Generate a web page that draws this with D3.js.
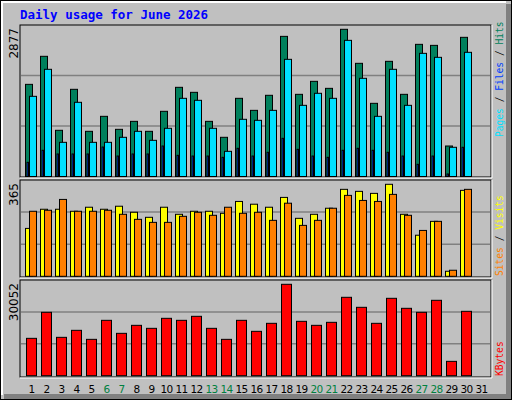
<!DOCTYPE html>
<html><head><meta charset="utf-8">
<script src="https://cdn.jsdelivr.net/npm/d3@7"></script>
<style>body{margin:0;background:#fff}svg{display:block}</style>
</head><body><svg id="chart" width="512" height="400"></svg>
<script>
const days = d3.range(1, 32);
const weekend = [6, 7, 13, 14, 20, 21, 27, 28];
const hits = [1801,2349,903,1704,883,1176,922,1078,883,1274,1743,1645,1078,766,1528,1293,1587,2739,1606,1860,1723,2877,2212,1430,2251,1606,2583,2563,596,2720,null];
const files = [1567,2095,668,1450,668,668,766,883,707,942,1528,1489,942,492,1118,1098,1293,2290,1391,1626,1528,2661,1919,1176,2095,1391,2407,2329,571,2427,null];
const pages = [277,512,440,440,440,576,400,440,440,596,414,400,400,375,551,400,473,746,531,400,375,512,551,512,473,400,238,400,49,571,null];
const visits = [190,266,266,258,274,266,278,254,234,274,246,258,258,250,297,286,274,313,230,246,270,345,337,329,365,246,163,218,20,341,null];
const sites = [258,262,305,258,258,262,246,226,214,214,238,254,242,274,250,254,222,290,202,222,270,321,301,297,325,242,182,218,24,345,null];
const kbytes = [12284,20839,12613,14916,11955,18207,13929,16562,15575,18865,18207,19523,15575,11955,18207,14587,17220,30052,17878,16562,17549,25775,22484,17220,25446,22155,20839,24788,4716,21168,null];

const svg = d3.select("#chart");
const mono = "'DejaVu Sans Mono', monospace";

// background + bevel
svg.append("rect").attr("x", 0).attr("y", 0).attr("width", 512).attr("height", 400).attr("fill", "#c0c0c0");
svg.append("rect").attr("x", 506).attr("y", 4).attr("width", 5).attr("height", 395).attr("fill", "#808080");
svg.append("rect").attr("x", 4).attr("y", 394).attr("width", 507).attr("height", 5).attr("fill", "#808080");
svg.append("path").attr("d", "M2,395V2H506").attr("stroke", "#fff").attr("stroke-width", 2).attr("fill", "none");
svg.append("rect").attr("x", 0.5).attr("y", 0.5).attr("width", 511).attr("height", 399).attr("fill", "none").attr("stroke", "#000");

svg.append("text").attr("x", 20).attr("y", 19).attr("fill", "#0000ff")
  .attr("font-family", mono).attr("font-weight", "bold").attr("font-size", 12.5)
  .text("Daily usage for June 2026");

const x = d3.scaleBand().domain(days).range([20, 485]);
const panelL = 20, panelR = 491;

function panel(top, bottom, base, maxY, maxVal, label) {
  svg.append("rect").attr("x", panelL).attr("y", top).attr("width", panelR - panelL).attr("height", bottom - top)
    .attr("fill", "#c0c0c0").attr("stroke", "#000");
  svg.append("path").attr("d", `M${panelL},${bottom + 1}H${panelR + 1}V${top}`).attr("stroke", "#fff").attr("fill", "none");
  const y = d3.scaleLinear().domain([0, maxVal]).range([base, maxY]);
  const h = base - top;
  [1, 2].forEach((k) => {
    svg.append("line").attr("x1", panelL + 1).attr("x2", panelR - 1)
      .attr("y1", base - h * k / 3).attr("y2", base - h * k / 3).attr("stroke", "#808080").attr("stroke-width", 1.5);
  });
  svg.append("text").attr("transform", `translate(18,${top + 3}) rotate(-90)`).attr("text-anchor", "end")
    .attr("font-family", "'DejaVu Sans', sans-serif").attr("font-size", 12).text(label);
  return y;
}

function bars(g, data, y, dx, w, color) {
  g.selectAll(null).data(days.filter((d, i) => data[i] != null)).enter().append("rect")
    .attr("x", (d) => x(d) + dx).attr("width", w)
    .attr("y", (d) => y(data[d - 1])).attr("height", (d) => y(0) - y(data[d - 1]))
    .attr("fill", color).attr("stroke", "#000").attr("stroke-width", 1);
}

// top panel
const y1 = panel(25, 177, 176.5, 29.3, 2877, "2877");
const g1 = svg.append("g");
bars(g1, hits, y1, 5.5, 7, "#00805c");
bars(g1, files, y1, 9.5, 7, "#00e0ff");
bars(g1, pages, y1, 7, 1.5, "#0040ff");

// middle panel
const y2 = panel(180, 277, 276.3, 184.3, 365, "365");
const g2 = svg.append("g");
bars(g2, visits, y2, 5.5, 7, "#ffff00");
bars(g2, sites, y2, 9.5, 7, "#ff8000");

// kbytes panel
const y3 = panel(280, 377, 375.7, 284.3, 30052, "30052");
bars(svg.append("g"), kbytes, y3, 6.5, 10, "#ff0000");

// day labels
svg.selectAll(".day").data(days).enter().append("text")
  .attr("x", (d) => x(d) + 11.5).attr("y", 393).attr("text-anchor", "middle")
  .attr("font-family", "'DejaVu Sans', sans-serif").attr("font-size", 10.5).attr("letter-spacing", -0.6)
  .attr("fill", (d) => weekend.includes(d) ? "#008040" : "#000").text((d) => d);

// right legends
function legend(yEnd, parts) {
  const t = svg.append("text").attr("transform", `translate(503,${yEnd}) rotate(-90)`)
    .attr("font-family", mono).attr("font-size", 9.6);
  parts.forEach(([s, c]) => t.append("tspan").attr("fill", c).text(s));
}
legend(137, [["Pages", "#00e0ff"], [" / ", "#000"], ["Files", "#0040ff"], [" / ", "#000"], ["Hits", "#00805c"]]);
legend(276, [["Sites", "#ff8000"], [" / ", "#000"], ["Visits", "#ffff00"]]);
legend(376, [["KBytes", "#ff0000"]]);
</script></body></html>
